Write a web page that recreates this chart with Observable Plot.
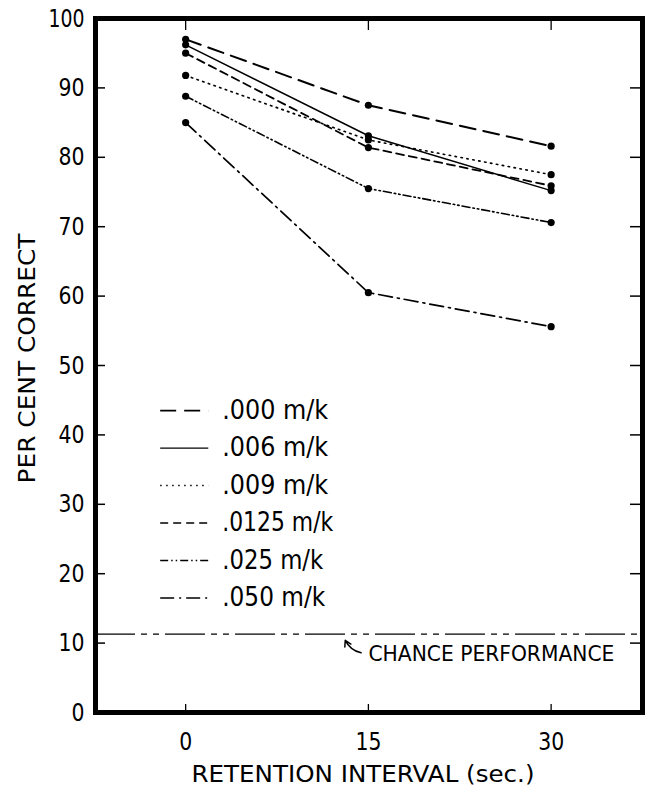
<!DOCTYPE html>
<html>
<head>
<meta charset="utf-8">
<script src="https://cdn.jsdelivr.net/npm/d3@7"></script>
<script src="https://cdn.jsdelivr.net/npm/@observablehq/plot@0.6"></script>
<style>
  html, body { margin: 0; padding: 0; background: #fff; }
  #chart svg { display: block; }
</style>
</head>
<body>
<div id="chart"></div>
<script>
// ---- data ----
const intervals = [0, 15, 30];
const seriesNames = [".000 m/k", ".006 m/k", ".009 m/k", ".0125 m/k", ".025 m/k", ".050 m/k"];
const s000  = [97.0, 87.5, 81.6];
const s006  = [96.2, 83.1, 75.2];
const s009  = [91.8, 82.5, 77.5];
const s0125 = [95.0, 81.4, 75.9];
const s025  = [88.8, 75.5, 70.6];
const s050  = [85.0, 60.5, 55.6];
const seriesValues = [s000, s006, s009, s0125, s025, s050];
const chance = 11.3;
const yTickLabels = [0, 10, 20, 30, 40, 50, 60, 70, 80, 90, 100];
const yInnerTicks = [10, 20, 30, 40, 50, 60, 70, 80, 90];
const xTickLabels = [0, 15, 30];
const yLabel = "PER CENT CORRECT";
const xLabel = "RETENTION INTERVAL (sec.)";
const chanceLabel = "CHANCE PERFORMANCE";

// ---- styles ----
const dashes = ["16,8", null, "1.5,4.5", "8,5", "8,3,1.5,3,1.5,3", "14,5,2,5"];
const widths = [2, 1.5, 1.6, 1.8, 1.6, 1.7];
const legendTextWidths = [106, 106, 106, 111, 101, 103];

const W = 653, H = 791;
const mL = 95, mR = 11, mT = 18, mB = 79;
const PW = W - mL - mR, PH = H - mT - mB;

const rows = [];
seriesNames.forEach((name, i) => {
  intervals.forEach((x, j) => rows.push({series: name, x, y: seriesValues[i][j]}));
});

// legend placement (data units)
const legTop = 43.5, legStep = 5.4, legX1 = -2.05, legX2 = 1.9, legTextX = 3.0;

const font = "'DejaVu Sans', sans-serif";

const marks = [];
seriesNames.forEach((name, i) => {
  marks.push(Plot.line(rows.filter(d => d.series === name), {
    x: "x", y: "y", stroke: "black", strokeWidth: widths[i],
    strokeDasharray: dashes[i] || undefined
  }));
});
marks.push(Plot.dot(rows, {x: "x", y: "y", r: 3.6, fill: "black"}));

// legend
seriesNames.forEach((name, i) => {
  const ly = legTop - i * legStep;
  marks.push(Plot.ruleY([ly], {x1: legX1, x2: legX2, stroke: "black", strokeWidth: widths[i] * 0.9,
    strokeDasharray: dashes[i] || undefined}));
  marks.push(Plot.text([name], {x: legTextX, y: ly, text: d => d, textAnchor: "start",
    fontSize: 26, lineAnchor: "middle"}));
});

// chance line + annotation
marks.push(Plot.ruleY([chance], {stroke: "black", strokeWidth: 1.3, strokeDasharray: "40,6,6,6,6,6"}));
marks.push(Plot.arrow([0], {x1: 14.4, y1: 8.6, x2: 13.1, y2: 10.4, bend: 25, headLength: 8, strokeWidth: 1.5, stroke: "black"}));
marks.push(Plot.text([chanceLabel], {x: 15.0, y: 8.4, text: d => d, textAnchor: "start", fontSize: 22, lineAnchor: "middle"}));

// ticks (inward)
marks.push(Plot.tickY(yInnerTicks, {y: d => d, stroke: "black", strokeWidth: 1.5, insetRight: PW - 10}));
marks.push(Plot.tickY(yInnerTicks, {y: d => d, stroke: "black", strokeWidth: 1.5, insetLeft: PW - 12}));
marks.push(Plot.tickX(xTickLabels, {x: d => d, stroke: "black", strokeWidth: 1.3, insetTop: PH - 8}));
marks.push(Plot.tickX(xTickLabels, {x: d => d, stroke: "black", strokeWidth: 1.3, insetBottom: PH - 12}));

// tick labels
marks.push(Plot.text(yTickLabels, {y: d => d, text: d => String(d), frameAnchor: "left", dx: -11, textAnchor: "end", fontSize: 25, lineAnchor: "middle"}));
marks.push(Plot.text(xTickLabels, {x: d => d, text: d => String(d), frameAnchor: "bottom", dy: 29, textAnchor: "middle", fontSize: 25, lineAnchor: "middle"}));

// axis labels
marks.push(Plot.text([yLabel], {text: d => d, frameAnchor: "left", dx: -68, dy: -7, rotate: -90, textAnchor: "middle", fontSize: 23, lineAnchor: "middle"}));
marks.push(Plot.text([xLabel], {text: d => d, frameAnchor: "bottom", dx: -6, dy: 62, textAnchor: "middle", fontSize: 23, lineAnchor: "middle"}));

// frame
marks.push(Plot.frame({stroke: "black", strokeWidth: 5}));

const svg = Plot.plot({
  width: W, height: H,
  marginLeft: mL, marginRight: mR, marginTop: mT, marginBottom: mB,
  style: {fontFamily: font, background: "white", color: "black"},
  x: {domain: [-7.4, 37.5], axis: null},
  y: {domain: [0, 100], axis: null},
  marks
});

// condensed, hand-lettered look: fit each text to its width in the original
d3.select(svg).selectAll("text").each(function() {
  const t = this.textContent;
  let len = null;
  if (t === yLabel) len = 250;
  else if (t === xLabel) len = 343;
  else if (t === chanceLabel) len = 246;
  else if (seriesNames.includes(t)) len = legendTextWidths[seriesNames.indexOf(t)];
  else if (/^\d+$/.test(t)) len = t.length === 3 ? 36 : t.length === 2 ? 26 : 13;
  if (len) {
    this.setAttribute("textLength", len);
    this.setAttribute("lengthAdjust", "spacingAndGlyphs");
  }
});

document.getElementById("chart").appendChild(svg);
</script>
</body>
</html>
